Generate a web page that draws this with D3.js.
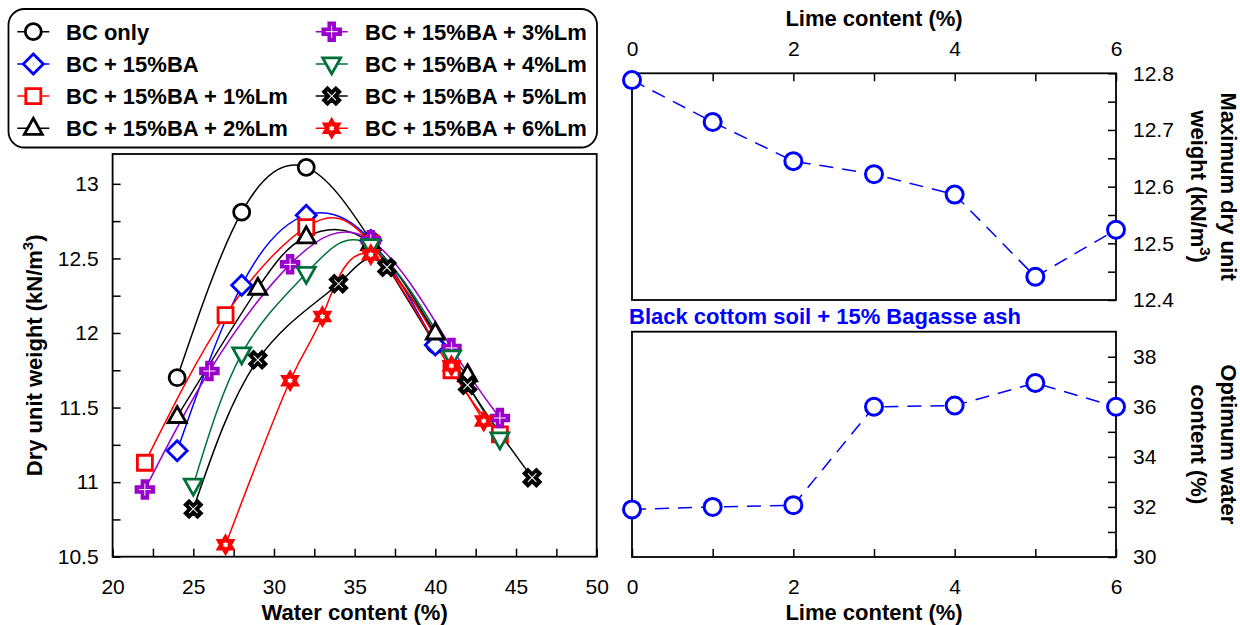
<!DOCTYPE html>
<html>
<head>
<meta charset="utf-8">
<script src="https://cdn.jsdelivr.net/npm/d3@7"></script>
<style>
  body { margin: 0; background: #fff; }
  svg { font-family: "Liberation Sans", Arial, sans-serif; }
  .tick text { font-size: 21px; fill: #000; }
  .tick line { stroke: #000; stroke-width: 1.5; }
</style>
</head>
<body>
<div id="chart"></div>
<script>
// compaction curves, water content (%) vs dry unit weight (kN/m3)
const seriesNames = ["BC only", "BC + 15%BA", "BC + 15%BA + 1%Lm", "BC + 15%BA + 2%Lm",
                     "BC + 15%BA + 3%Lm", "BC + 15%BA + 4%Lm", "BC + 15%BA + 5%Lm", "BC + 15%BA + 6%Lm"];
const wBC = [24, 28, 32, 36, 40],      dBC = [11.70, 12.81, 13.11, 12.62, 11.92];
const wBA = [24, 28, 32, 36, 40],      dBA = [11.21, 12.32, 12.79, 12.62, 11.92];
const wL1 = [22, 27, 32, 36, 41, 44],  dL1 = [11.13, 12.12, 12.71, 12.60, 11.75, 11.32];
const wL2 = [24, 29, 32, 36, 40, 42],  dL2 = [11.44, 12.30, 12.645, 12.60, 12.00, 11.72];
const wL3 = [22, 26, 31, 36, 41, 44],  dL3 = [10.95, 11.745, 12.46, 12.622, 11.90, 11.43];
const wL4 = [25, 28, 32, 36, 41, 44],  dL4 = [10.98, 11.86, 12.40, 12.586, 11.84, 11.29];
const wL5 = [25, 29, 34, 37, 42, 46],  dL5 = [10.82, 11.82, 12.33, 12.44, 11.65, 11.03];
const wL6 = [27, 31, 33, 36, 41, 43],  dL6 = [10.58, 11.68, 12.11, 12.525, 11.78, 11.41];

// lime content summary
const lime = [0, 1, 2, 3, 4, 5, 6];
const maxDry = [12.788, 12.714, 12.645, 12.622, 12.586, 12.441, 12.524];
const omc = [31.9, 32.0, 32.07, 36.0, 36.05, 36.95, 36.0];

const waterTicks = [20, 25, 30, 35, 40, 45, 50];
const dryTicks = [10.5, 11, 11.5, 12, 12.5, 13];

const colors = ["#000", "#0000ff", "#ff0000", "#000", "#9900cc", "#00703a", "#000", "#ff0000"];
const shapes = ["circle", "diamond", "square", "triangle", "cross", "down", "x", "star"];
const waters = [wBC, wBA, wL1, wL2, wL3, wL4, wL5, wL6];
const drys = [dBC, dBA, dL1, dL2, dL3, dL4, dL5, dL6];

const series = seriesNames.map((n, i) => ({
  name: n, color: colors[i], shape: shapes[i],
  pts: waters[i].map((w, j) => ({w: w, d: drys[i][j]}))
}));

const W = 1240, H = 625;
let svg = d3.select("#chart").append("svg").attr("width", W).attr("height", H);

function starPath(ro, ri) {
  let p = [];
  for (let k = 0; k < 12; k++) {
    const ang = -Math.PI / 2 + k * Math.PI / 6;
    const rr = k % 2 ? ri : ro;
    p.push([rr * Math.cos(ang), rr * Math.sin(ang)]);
  }
  return "M" + p.map(q => q.join(",")).join("L") + "Z";
}

function markerPath(type) {
  const r = 10;
  if (type == "diamond") return `M0,${-r}L${r},0L0,${r}L${-r},0Z`;
  if (type == "square") { const s = 7.5; return `M${-s},${-s}H${s}V${s}H${-s}Z`; }
  if (type == "triangle") return `M0,${-r}L${r*0.9},${r*0.6}L${-r*0.9},${r*0.6}Z`;
  if (type == "down") return `M0,${r}L${r*0.9},${-r*0.6}L${-r*0.9},${-r*0.6}Z`;
  if (type == "cross" || type == "x") {
    const a = 9.5, b = 3.5;
    return `M${-b},${-a}H${b}V${-b}H${a}V${b}H${b}V${a}H${-b}V${b}H${-a}V${-b}H${-b}Z`;
  }
  if (type == "star") return starPath(10, 5.8);
  return null;
}

function drawMarker(g, s, x, y) {
  if (s.shape == "circle") {
    g.append("circle").attr("cx", x).attr("cy", y).attr("r", 8)
      .attr("fill", "#fff").attr("stroke", s.color).attr("stroke-width", 2.8);
    return;
  }
  const solid = s.shape == "cross" || s.shape == "x" || s.shape == "star";
  let m = g.append("g")
    .attr("transform", `translate(${x},${y})` + (s.shape == "x" ? " rotate(45)" : ""));
  m.append("path").attr("d", markerPath(s.shape))
    .attr("fill", solid ? s.color : "#fff").attr("stroke", s.color)
    .attr("stroke-width", solid ? 1.5 : 2.8).attr("stroke-linejoin", "miter");
  if (s.shape == "cross" || s.shape == "x") {
    m.append("path").attr("d", "M-6,0H6M0,-6V6")
      .attr("stroke", "#fff").attr("stroke-width", 1);
  }
  if (s.shape == "star") {
    m.append("path").attr("d", starPath(3.2, 1.9)).attr("fill", "#fff");
  }
}

// ---------- left chart ----------
const L = {x0: 112.6, x1: 596.7, y0: 154, y1: 556.7};
let x = d3.scaleLinear().domain([20, 50]).range([L.x0, L.x1]);
let y = d3.scaleLinear().domain([10.5, 13.2]).range([L.y1, L.y0]);

let left = svg.append("g");

left.append("g").attr("transform", `translate(0,${L.y1})`)
  .call(d3.axisBottom(x).tickValues(d3.range(20, 50.01, 2.5))
    .tickFormat(d => waterTicks.includes(d) ? d : "").tickSizeInner(-8).tickSizeOuter(0).tickPadding(22))
  .call(g => g.select(".domain").remove());

left.append("g").attr("transform", `translate(${L.x0},0)`)
  .call(d3.axisLeft(y).tickValues(d3.range(10.5, 13.01, 0.25))
    .tickFormat(d => dryTicks.some(t => Math.abs(t - d) < 1e-6) ? d3.format("")(+d.toFixed(2)) : "")
    .tickSizeInner(-8).tickSizeOuter(0).tickPadding(14))
  .call(g => g.select(".domain").remove());

left.append("rect").attr("x", L.x0).attr("y", L.y0)
  .attr("width", L.x1 - L.x0).attr("height", L.y1 - L.y0)
  .attr("fill", "none").attr("stroke", "#000").attr("stroke-width", 1.8);

let line = d3.line().x(p => x(p.w)).y(p => y(p.d)).curve(d3.curveNatural);

series.forEach(s => {
  left.append("path").datum(s.pts).attr("d", line)
    .attr("fill", "none").attr("stroke", s.color).attr("stroke-width", 1.5);
});
series.forEach(s => {
  let g = left.append("g");
  s.pts.forEach(p => drawMarker(g, s, x(p.w), y(p.d)));
});

left.append("text").attr("x", (L.x0 + L.x1) / 2).attr("y", 620)
  .attr("text-anchor", "middle").attr("font-size", 22).attr("font-weight", "bold")
  .text("Water content (%)");

let yTitle = left.append("text").attr("transform", `translate(42,${(L.y0 + L.y1) / 2}) rotate(-90)`)
  .attr("text-anchor", "middle").attr("font-size", 22).attr("font-weight", "bold");
yTitle.append("tspan").text("Dry unit weight (kN/m");
yTitle.append("tspan").attr("dy", -9).attr("font-size", 15).text("3");
yTitle.append("tspan").attr("dy", 9).text(")");

// ---------- legend ----------
let leg = svg.append("g");
leg.append("rect").attr("x", 8.5).attr("y", 9).attr("width", 588.5).attr("height", 138.5)
  .attr("rx", 16).attr("fill", "#fff").attr("stroke", "#000").attr("stroke-width", 1.8);

series.forEach((s, i) => {
  const col = Math.floor(i / 4), row = i % 4;
  const mx = col ? 331.7 : 33.3, my = 31.7 + row * 32.2;
  let g = leg.append("g");
  g.append("line").attr("x1", mx - 16).attr("x2", mx + 16).attr("y1", my).attr("y2", my)
    .attr("stroke", s.color).attr("stroke-width", 1.5);
  drawMarker(g, s, mx, my);
  g.append("text").attr("x", col ? 365 : 66).attr("y", my + 8)
    .attr("font-size", 22).attr("font-weight", "bold").text(s.name);
});

// ---------- right charts ----------
const R = {x0: 632, x1: 1116};
let xl = d3.scaleLinear().domain([0, 6]).range([R.x0, R.x1]);
const T = {y0: 73.3, y1: 300};
const B = {y0: 331.7, y1: 557};
let yT = d3.scaleLinear().domain([12.4, 12.8]).range([T.y1, T.y0]);
let yB = d3.scaleLinear().domain([30, 39]).range([B.y1, B.y0]);

let topG = svg.append("g");
topG.append("g").attr("transform", `translate(0,${T.y0})`)
  .call(d3.axisTop(xl).tickValues(lime).tickFormat(d => d % 2 ? "" : d)
    .tickSizeInner(-8).tickSizeOuter(0).tickPadding(17))
  .call(g => g.select(".domain").remove());
topG.append("g").attr("transform", `translate(${R.x1},0)`)
  .call(d3.axisRight(yT).tickValues(d3.range(12.4, 12.801, 0.05))
    .tickFormat(d => Math.round(d * 100) % 10 ? "" : d.toFixed(1))
    .tickSizeInner(-8).tickSizeOuter(0).tickPadding(17))
  .call(g => g.select(".domain").remove());
topG.append("rect").attr("x", R.x0).attr("y", T.y0).attr("width", R.x1 - R.x0).attr("height", T.y1 - T.y0)
  .attr("fill", "none").attr("stroke", "#000").attr("stroke-width", 1.8);

let botG = svg.append("g");
botG.append("g").attr("transform", `translate(0,${B.y1})`)
  .call(d3.axisBottom(xl).tickValues(lime).tickFormat(d => d % 2 ? "" : d)
    .tickSizeInner(-8).tickSizeOuter(0).tickPadding(22))
  .call(g => g.select(".domain").remove());
botG.append("g").attr("transform", `translate(${R.x1},0)`)
  .call(d3.axisRight(yB).tickValues(d3.range(30, 39, 1))
    .tickFormat(d => d % 2 ? "" : d).tickSizeInner(-8).tickSizeOuter(0).tickPadding(17))
  .call(g => g.select(".domain").remove());
botG.append("rect").attr("x", R.x0).attr("y", B.y0).attr("width", R.x1 - R.x0).attr("height", B.y1 - B.y0)
  .attr("fill", "none").attr("stroke", "#000").attr("stroke-width", 1.8);

function limeLine(g, yScale, vals) {
  const pts = lime.map((l, i) => [xl(l), yScale(vals[i])]);
  g.append("path").attr("d", d3.line()(pts)).attr("fill", "none")
    .attr("stroke", "#0000ff").attr("stroke-width", 1.5).attr("stroke-dasharray", "14,9");
  pts.forEach(p => g.append("circle").attr("cx", p[0]).attr("cy", p[1]).attr("r", 8.5)
    .attr("fill", "#fff").attr("stroke", "#0000ff").attr("stroke-width", 3));
}
limeLine(topG, yT, maxDry);
limeLine(botG, yB, omc);

svg.append("text").attr("x", (R.x0 + R.x1) / 2).attr("y", 26).attr("text-anchor", "middle")
  .attr("font-size", 22).attr("font-weight", "bold").text("Lime content (%)");
svg.append("text").attr("x", (R.x0 + R.x1) / 2).attr("y", 620).attr("text-anchor", "middle")
  .attr("font-size", 22).attr("font-weight", "bold").text("Lime content (%)");
svg.append("text").attr("x", R.x0 - 3).attr("y", 324)
  .attr("font-size", 22).attr("font-weight", "bold").attr("fill", "#0000ff")
  .text("Black cottom soil + 15% Bagasse ash");

let t1 = svg.append("text").attr("transform", `translate(1221,${(T.y0 + T.y1) / 2}) rotate(90)`)
  .attr("text-anchor", "middle").attr("font-size", 22).attr("font-weight", "bold");
t1.append("tspan").attr("x", 0).attr("y", 0).text("Maximum dry unit");
let t1b = t1.append("tspan").attr("x", 0).attr("y", 30);
t1b.append("tspan").text("weight (kN/m");
t1b.append("tspan").attr("dy", -9).attr("font-size", 15).text("3");
t1b.append("tspan").attr("dy", 9).text(")");

let t2 = svg.append("text").attr("transform", `translate(1221,${(B.y0 + B.y1) / 2}) rotate(90)`)
  .attr("text-anchor", "middle").attr("font-size", 22).attr("font-weight", "bold");
t2.append("tspan").attr("x", 0).attr("y", 0).text("Optimum water");
t2.append("tspan").attr("x", 0).attr("y", 30).text("content (%)");
</script>
</body>
</html>
